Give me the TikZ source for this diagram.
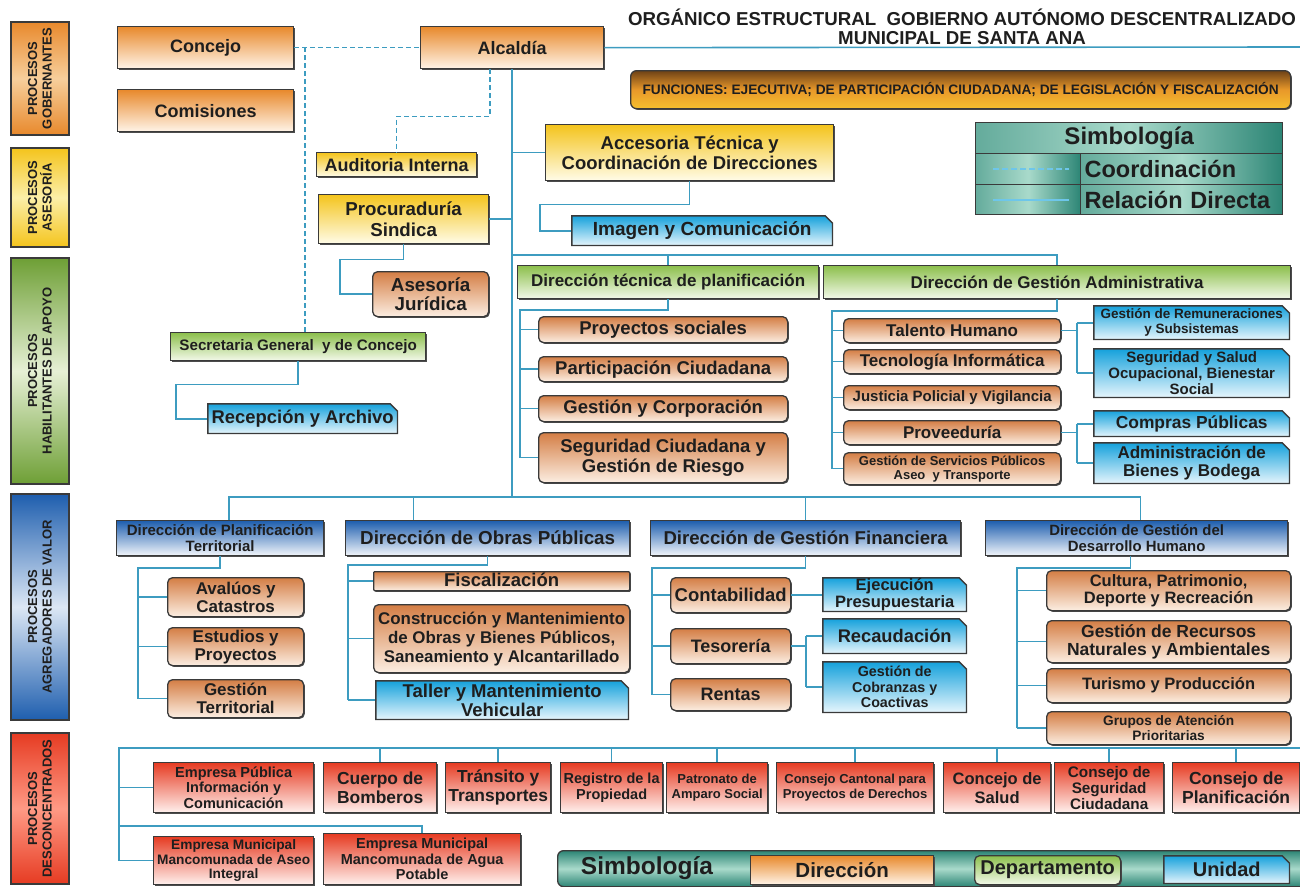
\documentclass[tikz,border=0pt]{standalone}
\usepackage{fontspec}
\setmainfont{Liberation Sans}
\usetikzlibrary{shapes.misc,shadows}
\definecolor{bord}{HTML}{3A3A3A}
\definecolor{txt}{HTML}{1E1E1E}
\definecolor{ln}{HTML}{3D9CC0}
\definecolor{lnl}{HTML}{6EC6EA}
\definecolor{orD}{HTML}{E8892C}
\definecolor{orL}{HTML}{FFF4E8}
\definecolor{orM}{HTML}{F7CF9C}
\definecolor{tanD}{HTML}{D47E45}
\definecolor{tanL}{HTML}{FCEEE2}
\definecolor{yeD}{HTML}{F4C41C}
\definecolor{yeL}{HTML}{FFFCE8}
\definecolor{yeM}{HTML}{FCEFA8}
\definecolor{grD}{HTML}{8CBF4C}
\definecolor{grL}{HTML}{F3F9EA}
\definecolor{grE}{HTML}{6E9F35}
\definecolor{grM}{HTML}{E6F0D5}
\definecolor{buD}{HTML}{12A0DB}
\definecolor{buL}{HTML}{EAF7FD}
\definecolor{bdD}{HTML}{1E5EAE}
\definecolor{bdL}{HTML}{F2F6FB}
\definecolor{bdM}{HTML}{DCE7F5}
\definecolor{reD}{HTML}{E63B22}
\definecolor{reL}{HTML}{FFF1EE}
\definecolor{reM}{HTML}{FF9A85}
\definecolor{teD}{HTML}{2C8575}
\definecolor{teL}{HTML}{A9DACB}
\definecolor{brD}{HTML}{6E4216}
\definecolor{brM}{HTML}{E8982A}
\definecolor{brL}{HTML}{F6C02E}
\newcommand\fsz[2]{\fontsize{#1}{#2}\selectfont}
\newcommand\obx[7]{\node[#1,minimum width=#5pt,minimum height=#6pt] (#2) at (#3,#4) {#7};}
\tikzset{
 boxbase/.style={inner xsep=1pt, inner ysep=0pt, align=center, text=txt, anchor=north west},
 box/.style={boxbase, draw=bord, line width=1.3pt, drop shadow={shadow xshift=1.2pt, shadow yshift=-1.2pt, fill=black!70, opacity=1}},
 dirbox/.style={box, top color=orD, bottom color=orL},
 depbox/.style={box, rounded corners=5pt, top color=tanD, bottom color=tanL},
 yelbox/.style={box, top color=yeD, bottom color=yeL},
 grnbox/.style={box, top color=grD, bottom color=grL},
 unitbox/.style={boxbase, path picture={\draw[draw=bord, line width=1.3pt, top color=buD, bottom color=buL]
   ([shift={(0.65pt,0.65pt)}]path picture bounding box.south west) --
   ([shift={(0.65pt,-0.65pt)}]path picture bounding box.north west) --
   ([shift={(-8pt,-0.65pt)}]path picture bounding box.north east) --
   ([shift={(-0.65pt,-8pt)}]path picture bounding box.north east) --
   ([shift={(-0.65pt,0.65pt)}]path picture bounding box.south east) -- cycle;}},
 bdirbox/.style={box, top color=bdD, bottom color=bdL},
 redbox/.style={box, top color=reD, bottom color=reL},
 legc/.style={boxbase, draw=bord, line width=1.3pt, left color=teD!55!teL, right color=teD, middle color=teL},
 labbox/.style={draw=bord, line width=1.3pt, rotate=90, align=center, text=txt, inner sep=1pt, font=\bfseries\fsz{13}{14.5}},
 rel/.style={draw=ln, line width=1.6pt},
 crd/.style={draw=ln, line width=1.6pt, dash pattern=on 5pt off 3pt},
}
\begin{document}
\begin{tikzpicture}[x=1pt,y=-1pt]
\useasboundingbox (0,0) rectangle (1300,886);
% ---- process labels
\node[labbox, minimum width=113pt, minimum height=58pt, top color=orD, bottom color=orD, middle color=orM] (lgob) at (40,78.5) {PROCESOS\\GOBERNANTES};
\node[labbox, minimum width=99pt, minimum height=58pt, top color=yeD, bottom color=yeD, middle color=yeM] (lase) at (40,197.5) {PROCESOS\\ASESORÍA};
\node[labbox, minimum width=226pt, minimum height=58pt, top color=grE, bottom color=grE, middle color=grM] (lhab) at (40,371) {PROCESOS\\HABILITANTES DE APOYO};
\node[labbox, minimum width=226pt, minimum height=58pt, top color=bdD, bottom color=bdD, middle color=bdM] (lagr) at (40,607) {PROCESOS\\AGREGADORES DE VALOR};
\node[labbox, minimum width=151pt, minimum height=58pt, top color=reD, bottom color=reD, middle color=reM] (ldes) at (40,808.5) {PROCESOS\\DESCONCENTRADOS};
% ---- title
\node[font=\bfseries\fsz{18.7}{20}, text=txt] (tit1) at (962,17) {ORGÁNICO ESTRUCTURAL\ \ GOBIERNO AUTÓNOMO DESCENTRALIZADO};
\node[font=\bfseries\fsz{18.7}{20}, text=txt] (tit2) at (962,38) {MUNICIPAL DE SANTA ANA};
% ---- gobernantes
\obx{dirbox,font=\bfseries\fsz{18}{20}}{conc}{117}{26}{176}{42}{Concejo}
\obx{dirbox,font=\bfseries\fsz{18}{20}}{comi}{117}{89}{176}{42}{Comisiones}
\obx{dirbox,font=\bfseries\fsz{18}{20}}{alc}{420}{26}{183}{42}{Alcaldía}
\node[box, rounded corners=6pt, top color=brD, bottom color=brL, middle color=brM, minimum width=660pt, minimum height=38pt, font=\bfseries\fsz{13.7}{15}] (fun) at (630,70) {FUNCIONES: EJECUTIVA; DE PARTICIPACIÓN CIUDADANA; DE LEGISLACIÓN Y FISCALIZACIÓN};
% ---- legend top right
\obx{legc,font=\bfseries\fsz{24}{26}}{sh}{975}{122}{307}{31}{Simbología}
\obx{legc}{lc1}{975}{153}{105}{31}{}
\node[legc, font=\bfseries\fsz{23.5}{25}, minimum height=31pt, text width=194pt, align=left, inner xsep=4pt] (rc1) at (1080,153) {Coordinación};
\obx{legc}{lc2}{975}{184}{105}{30}{}
\node[legc, font=\bfseries\fsz{23.5}{25}, minimum height=30pt, text width=194pt, align=left, inner xsep=4pt] (rc2) at (1080,184) {Relación Directa};
\draw[crd, draw=lnl, line width=1.8pt, dash pattern=on 6pt off 3pt] ([xshift=18pt]lc1.west) -- ([xshift=-12pt]lc1.east);
\draw[rel, draw=lnl, line width=1.8pt] ([xshift=18pt]lc2.west) -- ([xshift=-12pt]lc2.east);
% ---- asesoria
\obx{yelbox,font=\bfseries\fsz{18}{20}}{aud}{316}{152}{160}{24}{Auditoria Interna}
\obx{yelbox,font=\bfseries\fsz{18.5}{20.5}}{acc}{545}{124}{288}{56}{Accesoria Técnica y\\Coordinación de Direcciones}
\obx{yelbox,font=\bfseries\fsz{18.7}{20.5}}{proc}{318}{194}{170}{49}{Procuraduría\\Sindica}
\obx{unitbox,font=\bfseries\fsz{19}{21}}{img}{571}{215}{262}{31}{Imagen y Comunicación}
% ---- habilitantes
\obx{depbox,font=\bfseries\fsz{18.8}{19.5}}{ajur}{372}{271}{116}{45}{Asesoría\\Jurídica}
\obx{grnbox,font=\bfseries\fsz{15.2}{17}}{sec}{170}{332}{255}{28}{Secretaria General\ \ y de Concejo}
\obx{unitbox,font=\bfseries\fsz{18.4}{20}}{rec}{207}{403}{191}{31}{Recepción y Archivo}
\obx{grnbox,font=\bfseries\fsz{17}{19}}{dtp}{517}{265}{301}{33}{Dirección técnica de planificación}
\obx{grnbox,font=\bfseries\fsz{17}{19}}{dga}{823}{265}{467}{33}{Dirección de Gestión Administrativa}
\obx{depbox,font=\bfseries\fsz{18.5}{20}}{pso}{538}{316}{249}{26}{Proyectos sociales}
\obx{depbox,font=\bfseries\fsz{18.5}{20}}{pci}{538}{356}{249}{25}{Participación Ciudadana}
\obx{depbox,font=\bfseries\fsz{18.5}{20}}{gco}{538}{395}{249}{26}{Gestión y Corporación}
\obx{depbox,font=\bfseries\fsz{18.5}{20}}{sci}{538}{432}{249}{50}{Seguridad Ciudadana y\\Gestión de Riesgo}
\obx{depbox,font=\bfseries\fsz{17}{19}}{tal}{843}{318}{217}{24}{Talento Humano}
\obx{depbox,font=\bfseries\fsz{17}{19}}{tec}{843}{349}{217}{24}{Tecnología Informática}
\obx{depbox,font=\bfseries\fsz{15}{17}}{jus}{843}{385}{217}{24}{Justicia Policial y Vigilancia}
\obx{depbox,font=\bfseries\fsz{17}{19}}{prv}{843}{420}{217}{24}{Proveeduría}
\obx{depbox,font=\bfseries\fsz{13}{14}}{gsp}{843}{452}{217}{32}{Gestión de Servicios Públicos\\Aseo\ \ y Transporte}
\obx{unitbox,font=\bfseries\fsz{13.5}{15}}{rem}{1093}{305}{197}{35}{Gestión de Remuneraciones\\y Subsistemas}
\obx{unitbox,font=\bfseries\fsz{15}{15.6}}{ssal}{1093}{348}{197}{50}{Seguridad y Salud\\Ocupacional, Bienestar\\Social}
\obx{unitbox,font=\bfseries\fsz{17.4}{19}}{cpu}{1093}{410}{197}{27}{Compras Públicas}
\obx{unitbox,font=\bfseries\fsz{17}{18}}{abb}{1093}{442}{197}{42}{Administración de\\Bienes y Bodega}
% ---- agregadores
\obx{bdirbox,font=\bfseries\fsz{15}{16}}{dpt}{116}{520}{207}{35}{Dirección de Planificación\\Territorial}
\obx{bdirbox,font=\bfseries\fsz{18.8}{20}}{obr}{345}{520}{284}{35}{Dirección de Obras Públicas}
\obx{bdirbox,font=\bfseries\fsz{18.6}{20}}{dgf}{650}{520}{310}{35}{Dirección de Gestión Financiera}
\obx{bdirbox,font=\bfseries\fsz{14.9}{16}}{ddh}{985}{520}{302}{35}{Dirección de Gestión del\\Desarrollo Humano}
\obx{depbox,font=\bfseries\fsz{17}{18}}{ava}{167}{577}{136}{39}{Avalúos y\\Catastros}
\obx{depbox,font=\bfseries\fsz{17}{18}}{est}{167}{627}{136}{38}{Estudios y\\Proyectos}
\obx{depbox,font=\bfseries\fsz{17}{18}}{gte}{167}{679}{136}{38}{Gestión\\Territorial}
\obx{depbox,rounded corners=1pt,font=\bfseries\fsz{18.5}{19},text height=13.5pt,text depth=3pt}{fis}{373}{571}{256}{19}{Fiscalización}
\obx{depbox,font=\bfseries\fsz{16.9}{19}}{cons}{373}{604}{256}{68}{Construcción y Mantenimiento\\de Obras y Bienes Públicos,\\Saneamiento y Alcantarillado}
\obx{unitbox,font=\bfseries\fsz{18.5}{19}}{tall}{375}{680}{254}{40}{Taller y Mantenimiento\\Vehicular}
\obx{depbox,font=\bfseries\fsz{18.5}{20}}{cont}{670}{577}{120}{35}{Contabilidad}
\obx{depbox,font=\bfseries\fsz{18}{20}}{tes}{670}{628}{120}{35}{Tesorería}
\obx{depbox,font=\bfseries\fsz{18}{20}}{ren}{670}{678}{120}{32}{Rentas}
\obx{unitbox,font=\bfseries\fsz{16.5}{17}}{eje}{822}{577}{145}{35}{Ejecución\\Presupuestaria}
\obx{unitbox,font=\bfseries\fsz{18.3}{20}}{rca}{822}{618}{145}{36}{Recaudación}
\obx{unitbox,font=\bfseries\fsz{14.3}{15.5}}{gcc}{822}{661}{145}{52}{Gestión de\\Cobranzas y\\Coactivas}
\obx{depbox,font=\bfseries\fsz{16.5}{17.5}}{cul}{1046}{570}{244}{40}{Cultura, Patrimonio,\\Deporte y Recreación}
\obx{depbox,font=\bfseries\fsz{17.5}{18.5}}{grn}{1046}{620}{244}{42}{Gestión de Recursos\\Naturales y Ambientales}
\obx{depbox,font=\bfseries\fsz{16.5}{18}}{tur}{1046}{668}{244}{34}{Turismo y Producción}
\obx{depbox,font=\bfseries\fsz{13.7}{14.5}}{gap}{1046}{711}{244}{33}{Grupos de Atención\\Prioritarias}
% ---- desconcentrados
\obx{redbox,font=\bfseries\fsz{14.5}{15.5}}{epic}{153}{762}{160}{50}{Empresa Pública\\Información y\\Comunicación}
\obx{redbox,font=\bfseries\fsz{17.4}{19}}{cbom}{323}{762}{113}{50}{Cuerpo de\\Bomberos}
\obx{redbox,font=\bfseries\fsz{17.4}{19}}{tra}{445}{762}{105}{50}{Tránsito y\\Transportes}
\obx{redbox,font=\bfseries\fsz{14.5}{16.5}}{reg}{560}{762}{102}{50}{Registro de la\\Propiedad}
\obx{redbox,font=\bfseries\fsz{13}{15}}{pat}{666}{762}{101}{50}{Patronato de\\Amparo Social}
\obx{redbox,font=\bfseries\fsz{13}{15}}{cca}{776}{762}{157}{50}{Consejo Cantonal para\\Proyectos de Derechos}
\obx{redbox,font=\bfseries\fsz{16.5}{19}}{csa}{943}{762}{107}{50}{Concejo de\\Salud}
\obx{redbox,font=\bfseries\fsz{15.3}{16}}{cse}{1054}{762}{109}{50}{Consejo de\\Seguridad\\Ciudadana}
\obx{redbox,font=\bfseries\fsz{17.5}{19}}{cpl}{1172}{762}{127}{50}{Consejo de\\Planificación}
\obx{redbox,font=\bfseries\fsz{13.7}{14.5}}{ema}{153}{836}{160}{48}{Empresa Municipal\\Mancomunada de Aseo\\Integral}
\obx{redbox,font=\bfseries\fsz{14.5}{15.5}}{emap}{323}{833}{197}{51}{Empresa Municipal\\Mancomunada de Agua\\Potable}
% ---- bottom legend
\node[box, rounded corners=6pt, top color=teD, bottom color=teD, middle color=teL, minimum width=760pt, minimum height=36pt] (leg2) at (557,850) {};
\node[font=\bfseries\fsz{24.5}{26}, text=txt] (lsim) at (647,868) {Simbología};
\obx{dirbox,font=\bfseries\fsz{20.5}{22}}{ldir}{750}{855}{183}{29}{Dirección}
\obx{grnbox,rounded corners=5pt,font=\bfseries\fsz{20}{22}}{ldep}{974}{855}{146}{29}{Departamento}
\obx{unitbox,font=\bfseries\fsz{20}{22}}{luni}{1163}{855}{127}{29}{Unidad}
% ---- connectors
\coordinate (cj) at (305,47);
\coordinate (re) at (1300,47);
\coordinate (ab) at (512,497);
\coordinate (hb) at (512,255);
\draw[crd] (conc.east) -- (alc.west);
\draw[crd] (cj) -- (cj |- sec.north);
\draw[crd] ([xshift=-22pt]alc.south) -- ++(0,47) -| (aud.north);
\draw[rel] (alc.east) -- (re);
\draw[rel] (alc.south) -- (alc.south |- ab);
\draw[rel] (acc.west) -- (acc.west -| alc.south);
\draw[rel] (proc.east) -- (proc.east -| alc.south);
\draw[rel] (acc.south) -- ++(0,23) -| ([xshift=-31pt]img.west) -- (img.west);
\draw[rel] (proc.south) -- ++(0,15) -| ([xshift=-32pt]ajur.west) -- (ajur.west);
\draw[rel] (sec.south) -- ++(0,23) -| ([xshift=-31pt]rec.west) -- (rec.west);
\draw[rel] (hb) -| (dga.north);
\draw[rel] (dtp.north) -- (dtp.north |- hb);
\coordinate (dtpb) at (520,310);
\draw[rel] (dtp.south) |- (dtpb) -- (dtpb |- sci.west);
\foreach \n in {pso,pci,gco,sci} \draw[rel] (dtpb |- \n.west) -- (\n.west);
\coordinate (dgab) at (832,311);
\draw[rel] (dga.south) |- (dgab) -- (dgab |- gsp.west);
\foreach \n in {tal,tec,jus,prv,gsp} \draw[rel] (dgab |- \n.west) -- (\n.west);
\coordinate (jx) at (1077,0);
\draw[rel] (tal.east) -- (tal.east -| jx);
\draw[rel] (rem.west -| jx) -- (ssal.west -| jx);
\draw[rel] (rem.west -| jx) -- (rem.west);
\draw[rel] (ssal.west -| jx) -- (ssal.west);
\draw[rel] (prv.east) -- (prv.east -| jx);
\draw[rel] (cpu.west -| jx) -- (abb.west -| jx);
\draw[rel] (cpu.west -| jx) -- (cpu.west);
\draw[rel] (abb.west -| jx) -- (abb.west);
\draw[rel] ([xshift=9pt]dpt.north) |- ([xshift=4pt]ddh.north |- ab) -- ([xshift=4pt]ddh.north);
\draw[rel] ([xshift=-74pt]obr.north) -- ([xshift=-74pt]obr.north |- ab);
\draw[rel] (dgf.north) -- (dgf.north |- ab);
\coordinate (dptb) at (138,568);
\draw[rel] (dpt.south) |- (dptb) -- (dptb |- gte.west);
\foreach \n in {ava,est,gte} \draw[rel] (dptb |- \n.west) -- (\n.west);
\coordinate (obrb) at (348,565);
\draw[rel] (obr.south) |- (obrb) -- (obrb |- tall.west);
\foreach \n in {fis,cons,tall} \draw[rel] (obrb |- \n.west) -- (\n.west);
\coordinate (dgfb) at (652,568);
\draw[rel] (dgf.south) |- (dgfb) -- (dgfb |- ren.west);
\foreach \n in {cont,tes,ren} \draw[rel] (dgfb |- \n.west) -- (\n.west);
\draw[rel] (cont.east) -- (cont.east -| eje.west);
\coordinate (tjx) at (806,0);
\draw[rel] (tes.east) -- (tes.east -| tjx);
\draw[rel] (rca.west -| tjx) -- (gcc.west -| tjx);
\draw[rel] (rca.west -| tjx) -- (rca.west);
\draw[rel] (gcc.west -| tjx) -- (gcc.west);
\coordinate (ddhb) at (1017,568);
\draw[rel] ([xshift=-6pt]ddh.south) |- (ddhb) -- (ddhb |- gap.west);
\foreach \n in {cul,grn,tur,gap} \draw[rel] (ddhb |- \n.west) -- (\n.west);
\coordinate (db) at (119,748);
\coordinate (dbe) at (1300,748);
\coordinate (dm) at (0,826);
\draw[rel] (dbe) -- (db) |- (ema.west);
\draw[rel] (db |- epic.west) -- (epic.west);
\draw[rel] (db |- dm) -| (emap.north);
\foreach \n in {cbom,tra,reg,pat,cca,csa,cse,cpl} \draw[rel] (\n.north) -- (\n.north |- db);
\end{tikzpicture}
\end{document}
